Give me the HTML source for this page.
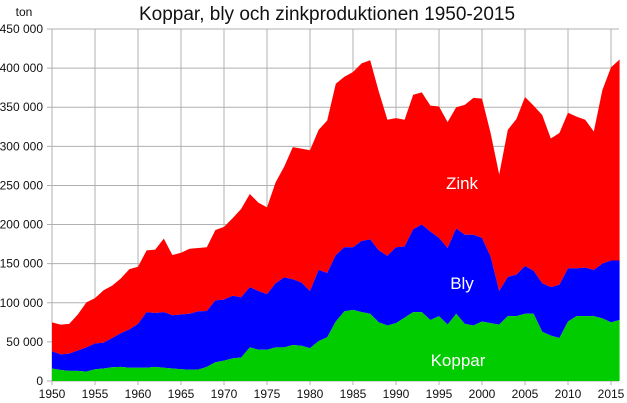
<!DOCTYPE html>
<html><head><meta charset="utf-8"><style>
body{margin:0;background:#fff;}
svg{display:block;font-family:"Liberation Sans",sans-serif;}
</style></head><body>
<svg id="chart" width="627" height="403" viewBox="0 0 627 403">
<text x="327" y="20" text-anchor="middle" font-size="19" fill="#111">Koppar, bly och zinkproduktionen 1950-2015</text>
<text x="24" y="16" text-anchor="middle" font-size="12" fill="#111">ton</text>
<g id="grid"></g><g id="areas"></g><g id="labels"></g>
<text x="462" y="189" text-anchor="middle" font-size="17" fill="#fff">Zink</text>
<text x="462" y="289" text-anchor="middle" font-size="17" fill="#fff">Bly</text>
<text x="458" y="366" text-anchor="middle" font-size="17" fill="#fff">Koppar</text>
</svg>
<script>
const years = [];
for (let y = 1950; y <= 2016; y++) years.push(y);
const koppar = [16,14,13,13,12,15,16,17.5,18,17, 17,17,18,17,16,15,14.5,14.5,18,24, 26,29,30,43,40,40,43,43,46,45, 42,51,56,76,89,91,88,86,75,71, 74,81,88,88,78,83,72,86,73,71, 76,74,72,83,83,86,86,63,58,55, 76,83,83,83,80,75,78];
const bly = [22,20,22,26,31,33,33,37.5,43,49, 56,71,69,71,68,70,71.5,74.5,71.5,79, 78,80,77,77,75,71,82,89.5,84,81, 73,91,82,85,82,80,91,95,92,89, 97,91,106,112,113,100,98,109,114,116, 107,85,43,50,53,61,55,62,62,68, 68,61,62,59,70,79,76];
const zink = [37,38,38,46,57.5,58,67,67,70,77, 73,79,81,94,77,79,83,81,81.5,90, 93,99,113,119,113,111,129,141.5,169,171, 180,179,195,219,218,224,227,229,203,174, 165,162,172,169,161,168,161,155,166,175, 178,158,149,188,199,216,211,215,190,194, 199,194,189,177,222,247,257];
const yTicks = [0,50000,100000,150000,200000,250000,300000,350000,400000,450000];
const xTicks = [1950,1955,1960,1965,1970,1975,1980,1985,1990,1995,2000,2005,2010,2015];

const NS = "http://www.w3.org/2000/svg";
const X = yr => 52 + (yr - 1950) * 8.6;
const Y = v => 381 - v * 352 / 450000;
const grid = document.getElementById('grid');
const labels = document.getElementById('labels');
function mk(tag, attrs, parent){const e=document.createElementNS(NS,tag);for(const k in attrs)e.setAttribute(k,attrs[k]);parent.appendChild(e);return e;}
yTicks.forEach(v=>{
  const l=mk('line',{x1:47,x2:619,y1:Y(v),y2:Y(v),stroke:'#b0b0b0','stroke-width':1},grid);
  
  
  const t=mk('text',{x:43,y:Y(v)+4,'text-anchor':'end','font-size':12,fill:'#111'},labels);
  
  
  t.textContent = v===0?'0':(v/1000)+' 000';
});
xTicks.forEach(yr=>{
  const l=mk('line',{x1:X(yr),x2:X(yr),y1:Y(450000),y2:385,stroke:'#b0b0b0','stroke-width':1},grid);
  
  
  const t=mk('text',{x:X(yr),y:398,'text-anchor':'middle','font-size':12,fill:'#111'},labels);
  
  
  t.textContent = yr;
});
const areas = document.getElementById('areas');
const c1 = koppar.map(v=>v*1000);
const c2 = c1.map((v,i)=>v+bly[i]*1000);
const c3 = c2.map((v,i)=>v+zink[i]*1000);
function area(top,bottom,color,name){
  let d='M'+years.map((yr,i)=>X(yr)+','+Y(top[i])).join(' L');
  for(let i=years.length-1;i>=0;i--) d+=' L'+X(years[i])+','+Y(bottom?bottom[i]:0);
  const p=mk('path',{d:d+' Z',fill:color},areas);
  
  
}
area(c3,c2,'#ff0000','zink-area');
area(c2,c1,'#0000ff','bly-area');
area(c1,null,'#00cc00','koppar-area');
</script>
</body></html>
